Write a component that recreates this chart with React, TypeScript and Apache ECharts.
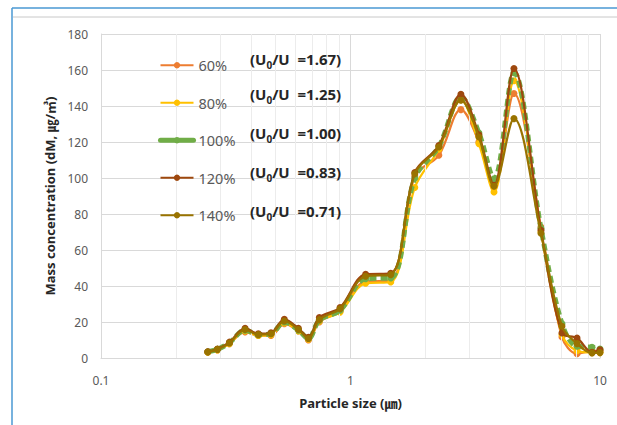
import React, { useEffect, useRef } from "react";
import * as echarts from "echarts";

const sizes = [0.268, 0.293, 0.327, 0.378, 0.427, 0.48, 0.543, 0.618, 0.678, 0.75, 0.908, 1.15, 1.45, 1.81, 2.26, 2.77, 3.27, 3.76, 4.52, 5.8, 7.04, 8.09, 9.29, 10];

const s60 = [3.3, 4.5, 8, 14.5, 12.5, 12.5, 19, 15, 10, 20, 26, 42.5, 43, 101, 112.6, 138, 120, 95, 146.9, 72.8, 11.7, 2.4, 4, 4];
const s80 = [3.2, 4.5, 8, 15, 12.5, 13, 19.5, 15, 10.5, 20.5, 25.5, 41.5, 42.2, 94.7, 116, 143.5, 119.1, 92.2, 154, 70, 13, 4, 3, 3];
const s100 = [3.5, 4.8, 8.5, 15.5, 13, 13.5, 20, 15.5, 10.8, 21, 26.5, 44, 44.5, 100, 117.5, 145, 125, 99.5, 158.5, 72, 19, 6.5, 6, 5];
const s120 = [3.5, 5, 8.8, 16.5, 13.5, 14, 21.5, 16.5, 11.5, 22.5, 28, 46.5, 47, 103, 118, 146.5, 124, 96, 160.8, 71, 13.9, 11.1, 3.2, 4.5];
const s140 = [3.3, 4.8, 8.3, 15.8, 13, 13.5, 20.6, 15.8, 10.8, 21.3, 27.4, 45.4, 46.3, 102.4, 117.2, 143.2, 122.8, 95.4, 133, 69.3, 17.6, 8, 2.8, 3];

const seriesNames = ["60%", "80%", "100%", "120%", "140%"];
const ratioLabels = ["1.67", "1.25", "1.00", "0.83", "0.71"];
const minorTicks = [0.2, 0.3, 0.4, 0.5, 0.6, 0.7, 0.8, 0.9, 2, 3, 4, 5, 6, 7, 8, 9];

const colors = ["#ED7D31", "#FFC000", "#70AD47", "#9E480E", "#997300"];
const FONT = "'Noto Sans', 'Noto Sans CJK KR', sans-serif";

export default function App() {
  const ref = useRef<HTMLDivElement>(null);
  useEffect(() => {
    if (!ref.current) return;
    const chart = echarts.init(ref.current, undefined, { renderer: "svg" });
    const all = [s60, s80, s100, s120, s140];
    const series: any[] = all.map((vals, i) => ({
      name: seriesNames[i],
      type: "line",
      data: sizes.map((x, j) => [x, vals[j]]),
      smooth: 0.35,
      symbol: "circle",
      symbolSize: 7,
      z: 3 + i,
      itemStyle: { color: colors[i] },
      lineStyle:
        i === 2
          ? { color: colors[i], width: 5, type: [7, 4] }
          : { color: colors[i], width: 2.25 },
    }));
    series.unshift({
      name: "minor",
      type: "line",
      data: [[1, 0]],
      symbol: "none",
      lineStyle: { opacity: 0 },
      z: 1,
      silent: true,
      markLine: {
        silent: true,
        symbol: "none",
        label: { show: false },
        lineStyle: { color: "#ececec", width: 1, type: "solid" },
        data: minorTicks.map((v) => ({ xAxis: v })),
      },
    });
    const labelGraphics = ratioLabels.map((r, i) => ({
      type: "text",
      left: 250,
      top: [52, 87, 126, 165, 204][i],
      z: 100,
      style: {
        text: `{a|(U}{s|0}{a|/U  =${r})}`,
        rich: {
          a: { fontSize: 15, fontWeight: "bold", fontFamily: FONT, fill: "#262626", lineHeight: 19, verticalAlign: "bottom" },
          s: { fontSize: 10, fontWeight: "bold", fontFamily: FONT, fill: "#262626", lineHeight: 19, verticalAlign: "bottom", padding: [0, 0, -3, 0] },
        },
      },
    }));
    chart.setOption({
      animation: false,
      backgroundColor: "#ffffff",
      grid: { left: 101, right: 17, top: 34, bottom: 67 },
      legend: {
        data: seriesNames.map((n, i) =>
          i === 2 ? { name: n, lineStyle: { width: 5, type: "solid", cap: "round" } } : { name: n }
        ),
        orient: "vertical",
        left: 153,
        top: 53,
        z: 50,
        itemWidth: 33,
        itemHeight: 8,
        itemGap: 23,
        itemTextGap: 3,
        textStyle: { fontSize: 14.5, color: "#595959", fontFamily: FONT },
      },
      xAxis: {
        type: "log",
        logBase: 10,
        min: 0.1,
        max: 10,
        name: "Particle size (㎛)",
        nameLocation: "middle",
        nameGap: 38,
        nameTextStyle: { fontSize: 13, fontWeight: "bold", color: "#262626", fontFamily: FONT },
        axisLine: { show: true, lineStyle: { color: "#d9d9d9" } },
        axisTick: { show: false },
        axisLabel: { fontSize: 12, color: "#595959", margin: 16, fontFamily: FONT },
        splitLine: { show: true, lineStyle: { color: "#d9d9d9" } },
      },
      yAxis: {
        type: "value",
        min: 0,
        max: 180,
        interval: 20,
        name: "Mass concentration (dM, ㎍/㎥)",
        nameLocation: "middle",
        nameGap: 43,
        nameTextStyle: { fontSize: 13, fontWeight: "bold", color: "#262626", fontFamily: FONT },
        axisLine: { show: true, lineStyle: { color: "#d9d9d9" } },
        axisTick: { show: false },
        axisLabel: { fontSize: 12, color: "#595959", margin: 13, fontFamily: FONT },
        splitLine: { show: true, lineStyle: { color: "#d9d9d9" } },
      },
      graphic: [
        { type: "line", shape: { x1: 12, y1: 8, x2: 617, y2: 8 }, style: { stroke: "#4a98d3", lineWidth: 1.5 } },
        { type: "line", shape: { x1: 12, y1: 8, x2: 12, y2: 425 }, style: { stroke: "#4a98d3", lineWidth: 1.5 } },
        { type: "line", shape: { x1: 13, y1: 17, x2: 617, y2: 17 }, style: { stroke: "#c8c8c8", lineWidth: 1 } },
        ...labelGraphics,
      ],
      series,
    });
    return () => chart.dispose();
  }, []);
  return <div ref={ref} style={{ position: "fixed", left: 0, top: 0, width: 617, height: 425 }} />;
}
